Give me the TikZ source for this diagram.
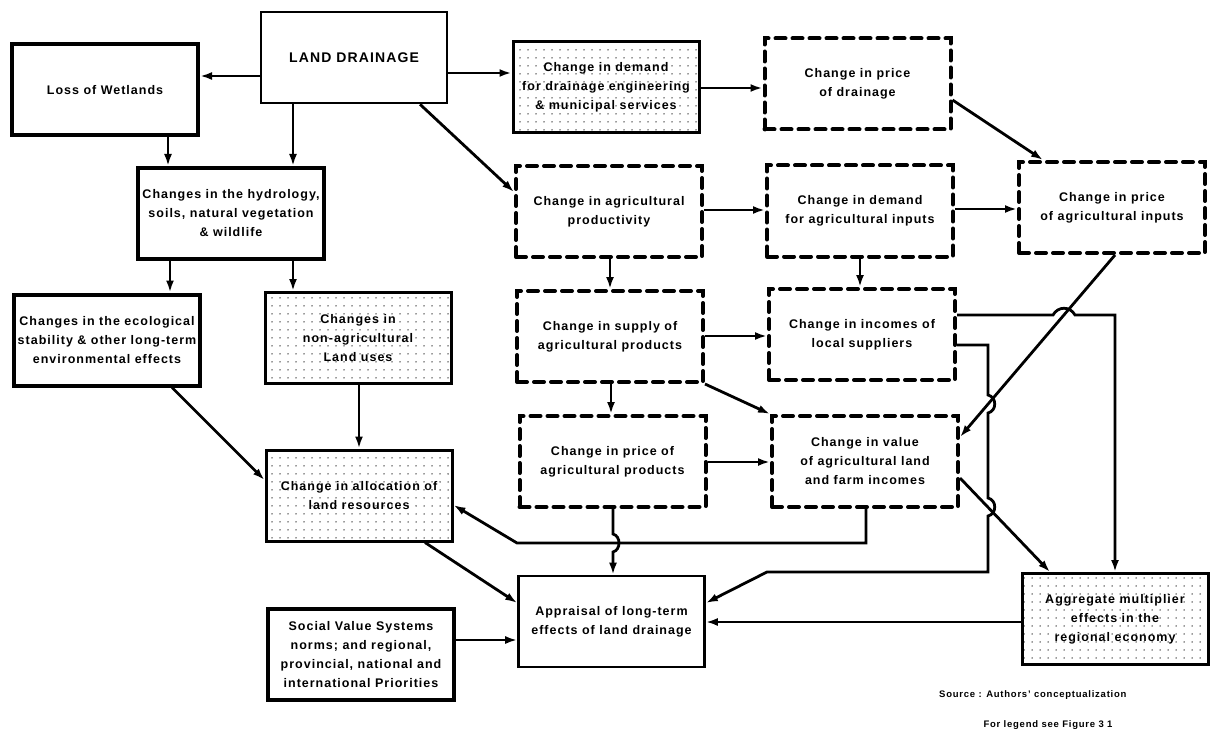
\documentclass[tikz,border=0pt]{standalone}
\usepackage{fontspec}
\setmainfont{Liberation Sans}[LetterSpace=8]
\usetikzlibrary{positioning,calc,arrows.meta,patterns.meta}

\tikzset{
  box/.style={rectangle, minimum width=186pt, minimum height=91pt, align=center, inner sep=2pt,
    font=\fontsize{12.5}{19}\selectfont\bfseries},
  heavybox/.style={box, draw, line width=4pt},
  plainbox/.style={box, draw, line width=2.6pt},
  dotbox/.style={box, draw, line width=3pt, pattern={Dots[radius=0.75pt,distance=8pt]}, pattern color=black!80},
  dashbox/.style={box, draw, line width=4pt, dash pattern=on 10pt off 7pt, line cap=round},
  link/.style={line width=2.8pt, ->},
  note/.style={font=\fontsize{9.5}{11}\selectfont\bfseries},
  >={Latex[length=12pt,width=8pt]},
}

\begin{document}
\begin{tikzpicture}[x=1pt, y=-1pt]
    \useasboundingbox (0,0) rectangle (1215,738);
    % first row
    \node[plainbox, font=\fontsize{14}{17}\selectfont\bfseries] (land) at (354,57.5) {LAND DRAINAGE};
    \node[heavybox] (loss) at (105,90) {Loss of Wetlands};
    \node[dotbox] (demdr) at (606,87.5) {Change in demand\\for drainage engineering\\\& municipal services};
    \node[dashbox] (pricedr) at (857.5,84) {Change in price\\of drainage};
    % second row
    \node[heavybox] (hyd) at (231,213.5) {Changes in the hydrology,\\soils, natural vegetation\\\& wildlife};
    \node[dashbox] (prod) at (609,211.5) {Change in agricultural\\productivity};
    \node[dashbox] (deminp) at (860,211) {Change in demand\\for agricultural inputs};
    \node[dashbox] (priceinp) at (1112,207.5) {Change in price\\of agricultural inputs};
    % third row
    \node[heavybox] (eco) at (107,340) {Changes in the ecological\\stability \& other long-term\\environmental effects};
    \node[dotbox] (nonag) at (358,338) {Changes in\\non-agricultural\\Land uses};
    \node[dashbox] (supply) at (610,336.5) {Change in supply of\\agricultural products};
    \node[dashbox] (incomes) at (862,334.5) {Change in incomes of\\local suppliers};
    % fourth row
    \node[dotbox] (alloc) at (359,495.5) {Change in allocation of\\land resources};
    \node[dashbox] (priceprod) at (612.5,461.5) {Change in price of\\agricultural products};
    \node[dashbox] (value) at (865,461.5) {Change in value\\of agricultural land\\and farm incomes};
    % bottom row
    \node[plainbox] (appraisal) at (611.5,621.5) {Appraisal of long-term\\effects of land drainage};
    \node[plainbox, line width=3.2pt] (social) at (361,654.5) {Social Value Systems\\norms; and regional,\\provincial, national and\\international Priorities};
    \node[dotbox] (aggr) at (1115,619) {Aggregate multiplier\\effects in the\\regional economy};
    \node[note, anchor=east] (src) at (1130,695) {Source : Authors' conceptualization};
    \node[note] (legend) at (1048,725) {For legend see Figure 3 1};

    % connectors
    \draw[link] (land.west |- 0,76) -- (loss.east |- 0,76);
    \draw[link] (land.east |- 0,73) -- (demdr.west |- 0,73);
    \draw[link] (land.south -| 293,0) -- (hyd.north -| 293,0);
    \draw[link] (loss.south -| 168,0) -- (hyd.north -| 168,0);
    \draw[link] (land.south -| 420,0) -- (prod.west |- 0,192);
    \draw[link] (demdr.east |- 0,88) -- (pricedr.west |- 0,88);
    \draw[link] (pricedr.east |- 0,100) -- (priceinp.north -| 1043,0);
    \draw[link] (prod.east |- 0,210) -- (deminp.west |- 0,210);
    \draw[link] (deminp.east |- 0,209) -- (priceinp.west |- 0,209);
    \draw[link] (prod.south -| 610,0) -- (supply.north -| 610,0);
    \draw[link] (deminp.south -| 860,0) -- (incomes.north -| 860,0);
    \draw[link] (hyd.south -| 170,0) -- (eco.north -| 170,0);
    \draw[link] (hyd.south -| 293,0) -- (nonag.north -| 293,0);
    \draw[link] (supply.east |- 0,336) -- (incomes.west |- 0,336);
    \draw[link] (supply.south east) -- (value.north west);
    \draw[link] (supply.south -| 611,0) -- (priceprod.north -| 611,0);
    \draw[link] (priceprod.east |- 0,462) -- (value.west |- 0,462);
    \draw[link] (eco.south -| 172,0) -- (alloc.west |- 0,480);
    \draw[link] (nonag.south -| 359,0) -- (alloc.north -| 359,0);
    \draw[link] (priceinp.south -| 1115,0) -- (value.east |- 0,437);
    \draw[link] (incomes.east |- 0,315) -- (1053,315) .. controls (1058,306) and (1070,306) .. (1075,315)
        -- (1115,315) -- (aggr.north -| 1115,0);
    \draw[link] (incomes.east |- 0,345) -- (988,345) -- (988,395) .. controls (997,397) and (997,411) .. (988,413)
        -- (988,498) .. controls (997,500) and (997,514) .. (988,516) -- (988,572) -- (767,572)
        -- (appraisal.east |- 0,603);
    \draw[link] (value.east |- 0,478) -- (aggr.north -| 1050,0);
    \draw[link] (value.south -| 866,0) -- (866,543) -- (517,543) -- (alloc.east |- 0,505);
    \draw[link] (priceprod.south -| 613,0) -- (613,534) .. controls (621,536) and (621,550) .. (613,552)
        -- (appraisal.north -| 613,0);
    \draw[link] (alloc.south -| 425,0) -- (appraisal.west |- 0,603);
    \draw[link] (social.east |- 0,640) -- (appraisal.west |- 0,640);
    \draw[link] (aggr.west |- 0,622) -- (appraisal.east |- 0,622);
\end{tikzpicture}
\end{document}
